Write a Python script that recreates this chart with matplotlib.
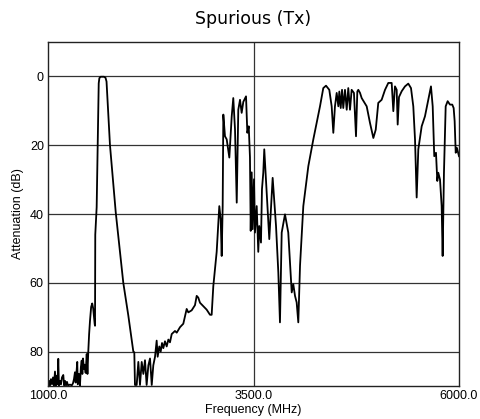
import matplotlib
matplotlib.use("Agg")
import matplotlib.pyplot as plt

# measured spurious response of the Tx filter
freq_mhz = [
    1000, 1012, 1024, 1036, 1049, 1061, 1073, 1085, 1097, 1109, 1117, 1125, 1133,
    1146, 1158, 1170, 1186, 1196, 1207, 1219, 1231, 1243, 1268, 1290, 1304, 1316,
    1328, 1336, 1341, 1356, 1362, 1377, 1389, 1400, 1410, 1418, 1426, 1436, 1444,
    1458, 1471, 1480, 1490, 1500, 1511, 1525, 1538, 1550, 1568, 1572, 1575, 1592,
    1605, 1617, 1625, 1640, 1680, 1700, 1712, 1754, 1824, 1916, 1977, 2038, 2050,
    2058, 2079, 2099, 2119, 2140, 2160, 2180, 2200, 2221, 2241, 2262, 2281, 2302,
    2322, 2334, 2354, 2371, 2387, 2403, 2423, 2444, 2464, 2484, 2505, 2545, 2566,
    2606, 2646, 2687, 2707, 2748, 2788, 2809, 2828, 2849, 2889, 2930, 2971, 2991,
    3011, 3052, 3084, 3101, 3113, 3125, 3133, 3153, 3174, 3206, 3235, 3254, 3275,
    3296, 3315, 3336, 3356, 3376, 3409, 3425, 3442, 3457, 3466, 3478, 3490, 3506,
    3518, 3539, 3558, 3570, 3591, 3603, 3619, 3631, 3660, 3692, 3733, 3774, 3802,
    3822, 3843, 3883, 3923, 3965, 3984, 4005, 4025, 4045, 4066, 4106, 4167, 4227,
    4309, 4349, 4382, 4422, 4451, 4471, 4491, 4512, 4532, 4544, 4561, 4577, 4592,
    4613, 4634, 4653, 4674, 4694, 4722, 4747, 4763, 4775, 4796, 4816, 4877, 4917,
    4958, 4987, 5018, 5059, 5100, 5140, 5181, 5201, 5221, 5242, 5254, 5270, 5303,
    5343, 5383, 5416, 5444, 5465, 5485, 5505, 5546, 5586, 5619, 5659, 5680, 5699,
    5720, 5736, 5748, 5769, 5789, 5801, 5817, 5838, 5862, 5890, 5918, 5935, 5947,
    5960, 5975, 6000,
]
atten_db = [
    89.5, 88.5, 89.8, 88.0, 89.5, 87.5, 89.8, 85.8, 89.8, 87.0, 89.5, 82.1, 89.8,
    88.5, 89.5, 87.5, 86.8, 89.8, 88.5, 89.8, 88.8, 89.8, 89.6, 89.8, 89.2, 88.0,
    86.0, 89.0, 87.8, 83.0, 89.5, 86.5, 89.8, 84.5, 82.6, 86.5, 82.0, 85.0, 83.8,
    86.2, 80.7, 86.5, 80.0, 75.0, 71.0, 67.0, 66.0, 67.5, 72.0, 72.5, 46.0, 38.0,
    20.0, 2.0, 0.5, 0.1, 0.1, 0.4, 1.5, 20.0, 39.5, 60.0, 69.5, 80.0, 80.2,
    89.7, 89.7, 83.0, 89.7, 83.0, 86.5, 82.5, 89.7, 84.0, 82.0, 89.7, 84.0, 81.5,
    76.8, 81.5, 78.5, 80.0, 77.5, 79.0, 77.0, 78.5, 76.5, 77.3, 74.9, 74.0, 74.5,
    72.9, 71.9, 67.6, 68.6, 68.0, 66.5, 63.8, 64.3, 65.8, 66.8, 67.8, 69.3, 69.3,
    61.0, 51.0, 37.7, 41.6, 52.2, 37.7, 11.1, 17.4, 18.3, 23.6, 11.6, 6.3, 15.4,
    36.7, 9.7, 6.8, 10.6, 7.4, 5.8, 16.4, 14.5, 23.5, 44.9, 27.9, 44.4, 29.9,
    45.4, 37.7, 51.0, 43.5, 48.3, 32.8, 28.0, 21.2, 33.8, 47.3, 29.5, 43.5, 57.0,
    71.5, 45.4, 40.1, 45.4, 62.8, 60.4, 63.8, 65.7, 71.5, 55.0, 37.7, 26.1, 18.4,
    8.7, 3.4, 2.7, 3.9, 8.7, 16.4, 8.7, 4.8, 8.7, 4.4, 9.2, 3.9, 9.2,
    3.9, 9.7, 3.4, 9.7, 3.9, 4.8, 17.4, 4.4, 3.9, 4.8, 6.3, 8.7, 13.5,
    17.9, 15.5, 7.7, 6.8, 3.9, 1.9, 1.9, 10.1, 2.9, 3.9, 14.0, 6.0, 4.3,
    2.9, 2.1, 3.4, 8.7, 18.4, 35.2, 21.2, 14.5, 11.6, 7.7, 2.9, 8.7, 23.2,
    22.2, 30.4, 28.0, 30.0, 37.7, 52.2, 28.0, 8.7, 7.2, 8.2, 8.2, 9.2, 13.0,
    22.2, 20.8, 23.2,
]

x_ticks = [1000, 3500, 6000]
y_ticks = [0, 20, 40, 60, 80]

label_font = "Liberation Sans"

fig = plt.figure(figsize=(4.81, 4.19), dpi=100)
ax = fig.add_axes([48 / 481, 1 - 386 / 419, 411 / 481, 344 / 419])

ax.plot(freq_mhz, atten_db, color="black", linewidth=1.3)

ax.set_xlim(1000, 6000)
ax.set_ylim(90, -10)
ax.set_xticks(x_ticks)
ax.set_xticklabels([f"{t:.1f}" for t in x_ticks], fontfamily=label_font, fontsize=9)
ax.set_yticks(y_ticks)
ax.set_yticklabels([str(t) for t in y_ticks], fontfamily=label_font, fontsize=9)
ax.tick_params(length=0, pad=3)

for t in y_ticks:
    ax.axhline(t, color="#333333", linewidth=0.9, zorder=0)
ax.axvline(3500, color="#333333", linewidth=0.9, zorder=0)

for s in ax.spines.values():
    s.set_color("#222222")
    s.set_linewidth(1.0)

ax.set_xlabel("Frequency (MHz)", fontfamily=label_font, fontsize=9, labelpad=1)
ax.set_ylabel("Attenuation (dB)", fontfamily=label_font, fontsize=9, labelpad=4)
ax.set_title("Spurious (Tx)", fontfamily="DejaVu Sans", fontsize=12.5, pad=13)

fig.savefig("out.png", dpi=100)
